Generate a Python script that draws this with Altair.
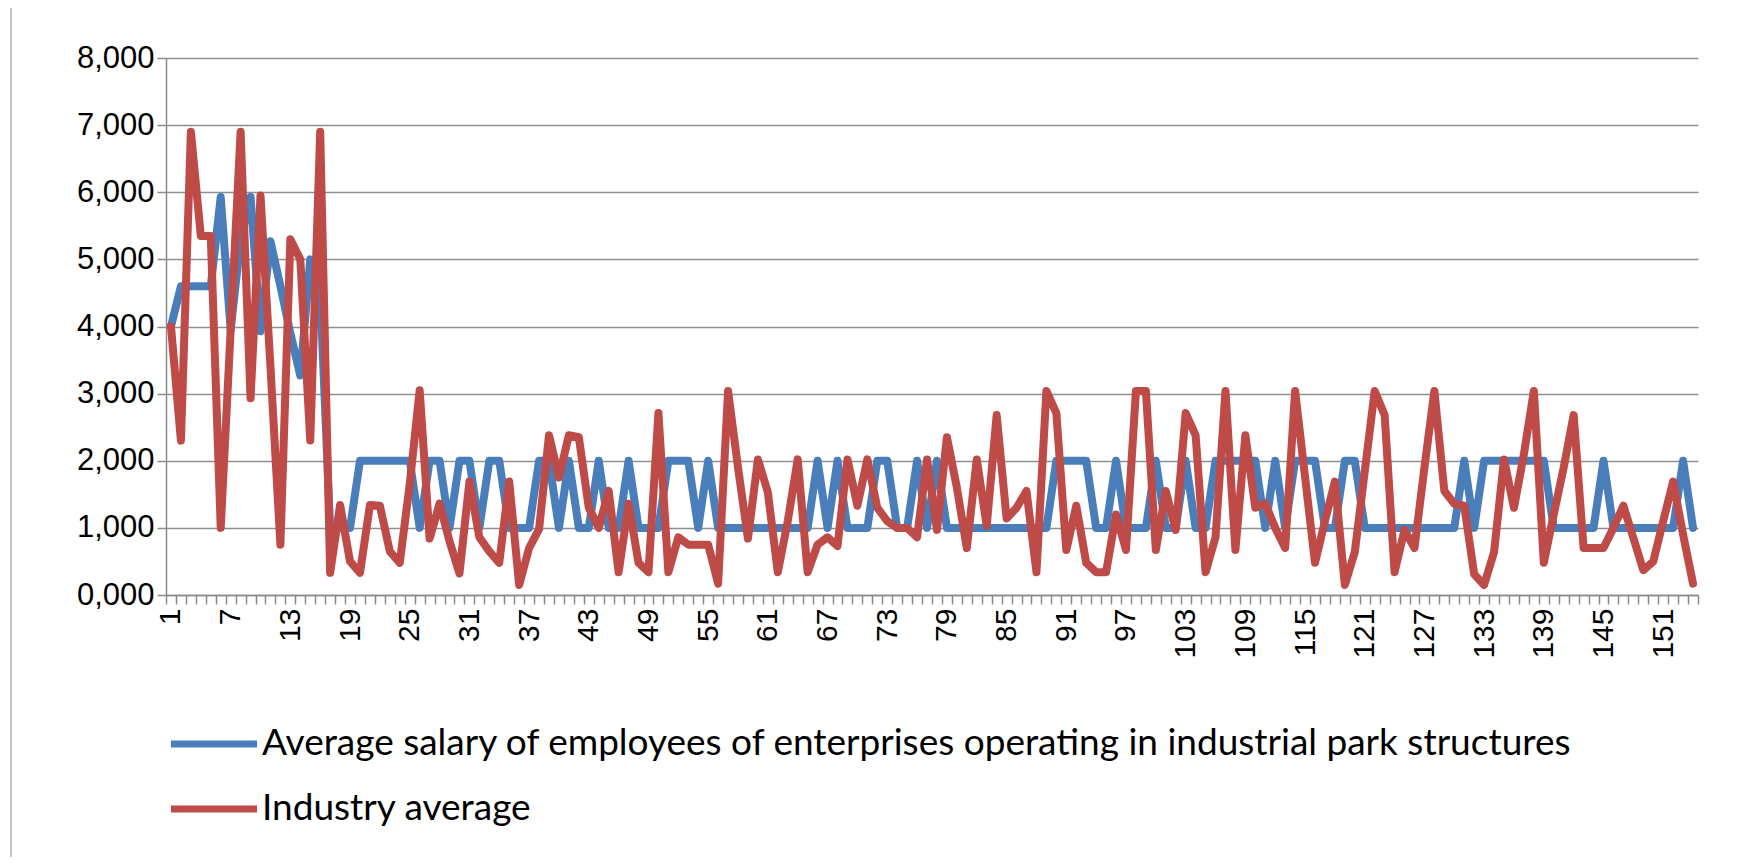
import altair as alt
import pandas as pd

# ---- data (values in thousands, as shown on the axis "8,000" = 8.000) ----
index = list(range(1, 155))

park_salary = [
    4.0, 4.6, 4.6, 4.6, 4.6, 5.93, 3.95, 5.3, 5.93, 3.93,
    5.27, 4.6, 3.9, 3.27, 5.0, 4.5, 1.0, 1.0, 1.0, 2.0,
    2.0, 2.0, 2.0, 2.0, 2.0, 1.0, 2.0, 2.0, 1.0, 2.0,
    2.0, 1.0, 2.0, 2.0, 1.0, 1.0, 1.0, 2.0, 2.0, 1.0,
    2.0, 1.0, 1.0, 2.0, 1.0, 1.0, 2.0, 1.0, 1.0, 1.0,
    2.0, 2.0, 2.0, 1.0, 2.0, 1.0, 1.0, 1.0, 1.0, 1.0,
    1.0, 1.0, 1.0, 1.0, 1.0, 2.0, 1.0, 2.0, 1.0, 1.0,
    1.0, 2.0, 2.0, 1.0, 1.0, 2.0, 1.0, 2.0, 1.0, 1.0,
    1.0, 1.0, 1.0, 1.0, 1.0, 1.0, 1.0, 1.0, 1.0, 2.0,
    2.0, 2.0, 2.0, 1.0, 1.0, 2.0, 1.0, 1.0, 1.0, 2.0,
    1.0, 1.0, 2.0, 1.0, 1.0, 2.0, 2.0, 2.0, 2.0, 2.0,
    1.0, 2.0, 1.0, 2.0, 2.0, 2.0, 1.0, 1.0, 2.0, 2.0,
    1.0, 1.0, 1.0, 1.0, 1.0, 1.0, 1.0, 1.0, 1.0, 1.0,
    2.0, 1.0, 2.0, 2.0, 2.0, 2.0, 2.0, 2.0, 2.0, 1.0,
    1.0, 1.0, 1.0, 1.0, 2.0, 1.0, 1.0, 1.0, 1.0, 1.0,
    1.0, 1.0, 2.0, 1.0,
]

industry_avg = [
    4.0, 2.3, 6.9, 5.35, 5.35, 1.0, 3.95, 6.9, 2.93, 5.95,
    3.4, 0.75, 5.3, 5.0, 2.3, 6.9, 0.33, 1.34, 0.5, 0.33,
    1.34, 1.33, 0.65, 0.48, 1.65, 3.05, 0.84, 1.36, 0.8, 0.32,
    1.69, 0.86, 0.65, 0.48, 1.69, 0.15, 0.7, 0.98, 2.38, 1.75,
    2.38, 2.35, 1.3, 1.0, 1.55, 0.34, 1.36, 0.48, 0.34, 2.71,
    0.34, 0.86, 0.75, 0.75, 0.75, 0.17, 3.04, 1.9, 0.84, 2.02,
    1.53, 0.34, 1.1, 2.02, 0.34, 0.75, 0.86, 0.73, 2.02, 1.33,
    2.02, 1.3, 1.1, 1.0, 1.0, 0.86, 2.02, 0.97, 2.35, 1.6,
    0.7, 2.02, 1.03, 2.68, 1.14, 1.3, 1.55, 0.34, 3.04, 2.71,
    0.67, 1.33, 0.48, 0.34, 0.34, 1.2, 0.67, 3.04, 3.04, 0.67,
    1.55, 0.97, 2.71, 2.38, 0.34, 0.86, 3.04, 0.67, 2.38, 1.3,
    1.36, 1.0, 0.7, 3.04, 1.76, 0.48, 1.1, 1.69, 0.15, 0.64,
    1.84, 3.04, 2.68, 0.34, 0.97, 0.7, 1.9, 3.04, 1.55, 1.36,
    1.33, 0.31, 0.15, 0.64, 2.02, 1.3, 2.1, 3.04, 0.48, 1.2,
    1.9, 2.68, 0.7, 0.7, 0.7, 1.0, 1.33, 0.85, 0.37, 0.5,
    1.1, 1.69, 0.9, 0.17,
]

series_names = [
    "Average salary of employees of enterprises operating in industrial park structures",
    "Industry average",
]
series_colors = ["#4A7EBB", "#BE4B48"]
y_ticks = [0, 1, 2, 3, 4, 5, 6, 7, 8]

n = len(index)
df = pd.DataFrame({
    "idx": index * 2,
    "value": park_salary + industry_avg,
    "series": [series_names[0]] * n + [series_names[1]] * n,
})

PLOT_W, PLOT_H = 1532, 537
half_band = PLOT_W / n / 2.0
boundaries = [k + 0.5 for k in range(0, n + 1)]
AXIS_GREY = "#8a8a8a"

x_enc = alt.X(
    "idx:Q",
    scale=alt.Scale(domain=[0.5, n + 0.5], nice=False, zero=False),
    axis=alt.Axis(
        values=boundaries,
        title=None,
        grid=False,
        labelExpr=f"((datum.value + 0.5) % 6 == 1 && datum.value < {n}) ? '' + (datum.value + 0.5) : ''",
        labelOffset=half_band,
        labelAngle=270,
        labelAlign="right",
        labelBaseline="middle",
        labelOverlap=False,
        labelFlush=False,
        labelBound=False,
        labelFont="Liberation Sans",
        labelFontSize=30,
        labelColor="#000000",
        labelPadding=4,
        tickSize=9,
        tickColor=AXIS_GREY,
        tickWidth=1.5,
        domainColor=AXIS_GREY,
        domainWidth=1.5,
    ),
)

y_enc = alt.Y(
    "value:Q",
    scale=alt.Scale(domain=[0, 8], nice=False),
    axis=alt.Axis(
        values=y_ticks,
        title=None,
        grid=True,
        gridColor="#8f8f8f",
        gridWidth=1.5,
        labelExpr="replace(format(datum.value, '.3f'), '.', ',')",
        labelFont="Liberation Sans",
        labelFontSize=31,
        labelColor="#000000",
        labelPadding=3,
        tickSize=9,
        tickColor=AXIS_GREY,
        tickWidth=1.5,
        domainColor=AXIS_GREY,
        domainWidth=1.5,
    ),
)

color_enc = alt.Color(
    "series:N",
    scale=alt.Scale(domain=series_names, range=series_colors),
    legend=alt.Legend(
        title=None,
        orient="none",
        legendX=1,
        legendY=639,
        direction="vertical",
        symbolType="stroke",
        symbolSize=7400,
        symbolStrokeWidth=7,
        labelFont="Lato",
        labelFontSize=37,
        labelColor="#000000",
        labelLimit=3000,
        labelOffset=1,
        rowPadding=-12,
        padding=0,
    ),
)

base = alt.Chart(df)

blue = base.transform_filter(alt.datum.series == series_names[0]).mark_line(
    strokeWidth=8, strokeJoin="round", strokeCap="round"
).encode(x=x_enc, y=y_enc, color=color_enc, order="idx:Q")

red = base.transform_filter(alt.datum.series == series_names[1]).mark_line(
    strokeWidth=8, strokeJoin="round", strokeCap="round"
).encode(x=x_enc, y=y_enc, color=color_enc, order="idx:Q")

# outer chart-area frame edge (left side, as in the reference)
frame = alt.Chart(pd.DataFrame({"k": [0]})).mark_rule(
    color="#b0b0b0", strokeWidth=1.5
).encode(x=alt.value(-155), y=alt.value(-58), y2=alt.value(820))

chart = alt.layer(frame, blue, red).properties(
    width=PLOT_W,
    height=PLOT_H,
    autosize=alt.AutoSizeParams(type="none"),
    padding={"left": 158, "top": 50, "right": 31, "bottom": 262},
    background="white",
).configure_view(stroke=None)

chart.save("out.html", embed_options={"renderer": "svg", "actions": False})
